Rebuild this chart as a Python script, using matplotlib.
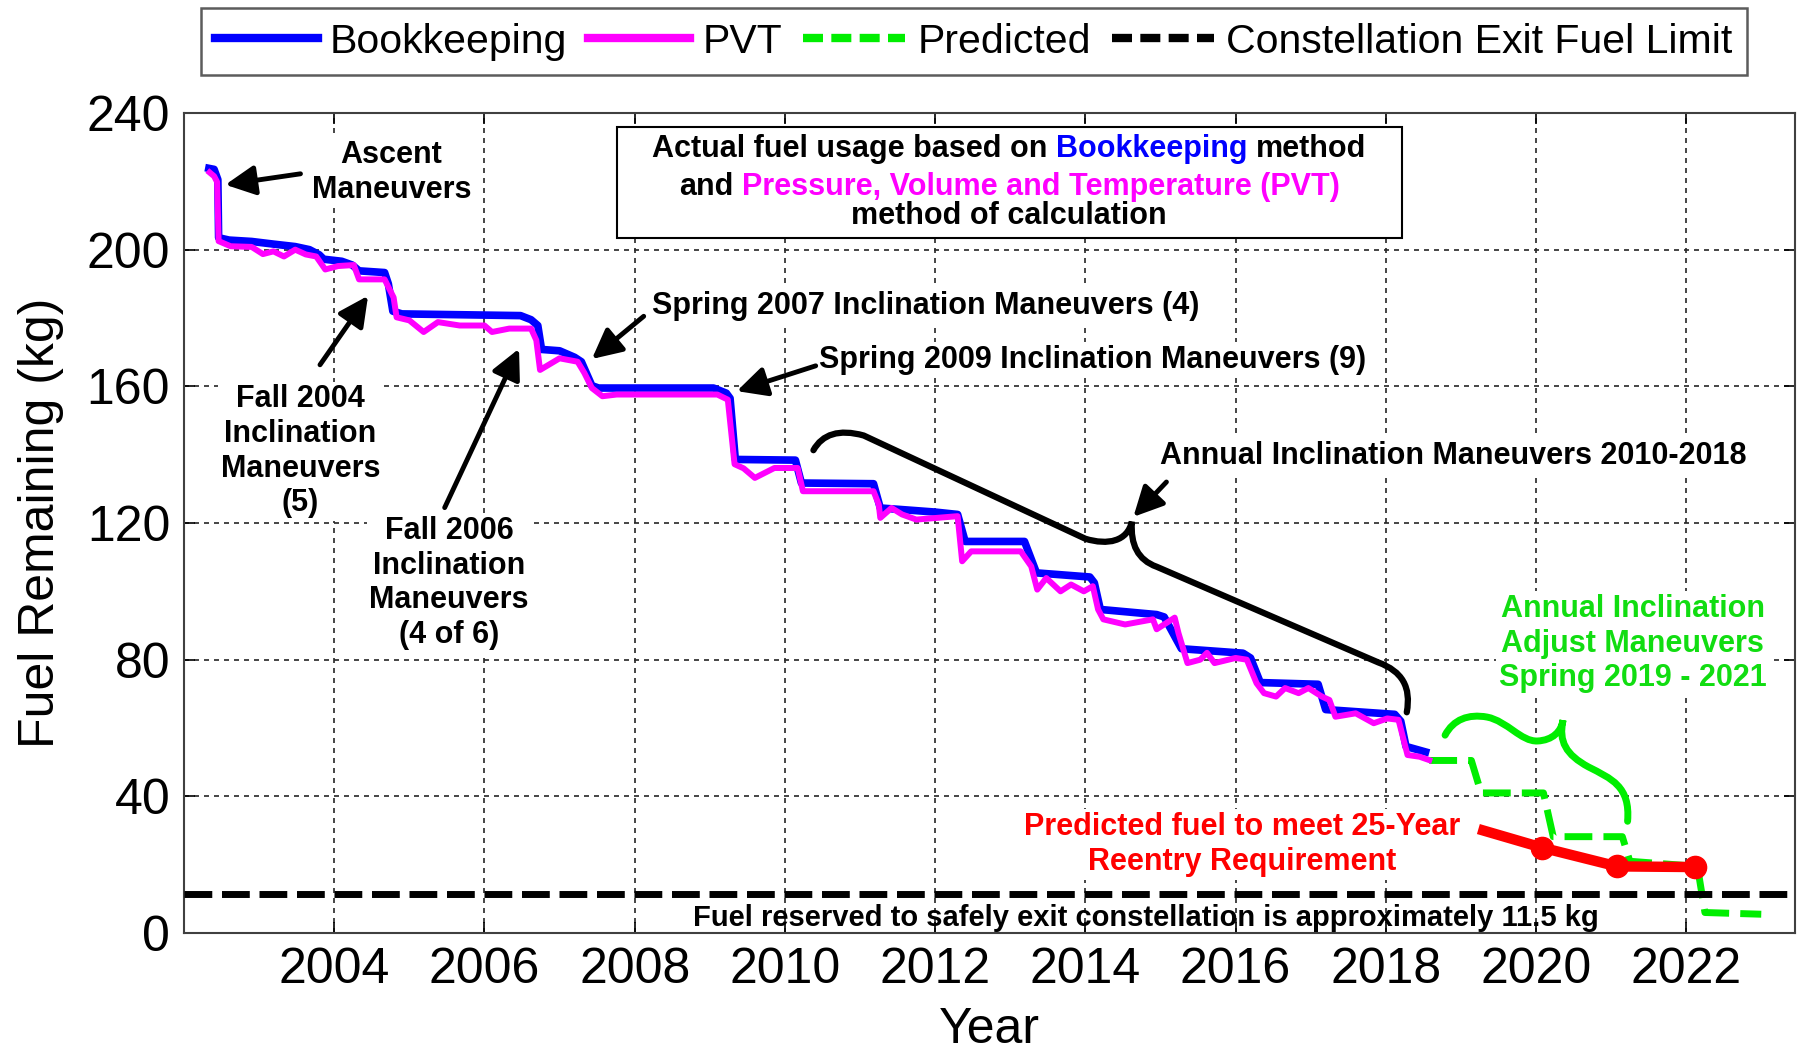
import matplotlib
matplotlib.use('Agg')
import matplotlib.pyplot as plt
import matplotlib.transforms as mtransforms
from matplotlib.lines import Line2D
from matplotlib.path import Path
from matplotlib.patches import PathPatch, Rectangle

plt.rcParams['font.family'] = ['Liberation Sans', 'DejaVu Sans']

# Bookkeeping fuel estimate (kg) vs. year
bk_year = [2002.33, 2002.40, 2002.45, 2002.46, 2002.60, 2002.90, 2003.20, 2003.48,
           2003.67, 2003.80, 2003.86, 2004.10, 2004.24, 2004.33, 2004.67, 2004.72,
           2004.78, 2004.90, 2006.48, 2006.62, 2006.71, 2006.76, 2007.00, 2007.20,
           2007.29, 2007.43, 2007.52, 2009.05, 2009.22, 2009.27, 2009.34, 2010.14,
           2010.22, 2011.18, 2011.27, 2012.00, 2012.30, 2012.40, 2013.19, 2013.35,
           2014.06, 2014.12, 2014.20, 2014.95, 2015.05, 2015.28, 2016.10, 2016.20,
           2016.33, 2017.10, 2017.20, 2018.12, 2018.20, 2018.27, 2018.53]
bk_kg = [223.8, 223.5, 220.5, 203.5, 202.8, 202.4, 201.6, 200.9,
         200.0, 198.5, 197.2, 196.6, 195.5, 193.8, 193.3, 190.0,
         182.0, 181.2, 180.7, 179.5, 177.8, 170.8, 170.4, 168.5,
         167.2, 160.2, 159.5, 159.5, 158.0, 156.5, 138.6, 138.4,
         131.7, 131.5, 124.4, 123.2, 122.5, 114.6, 114.6, 105.4,
         104.2, 102.5, 94.7, 93.2, 92.5, 83.2, 81.9, 80.5,
         73.3, 72.8, 65.4, 64.0, 62.0, 54.6, 53.0]

# Pressure, Volume and Temperature (PVT) estimate
pvt_year = [2002.34, 2002.40, 2002.44, 2002.46, 2002.62, 2002.90, 2003.05, 2003.19,
            2003.33, 2003.48, 2003.62, 2003.76, 2003.88, 2004.05, 2004.26, 2004.33,
            2004.67, 2004.79, 2004.83, 2005.00, 2005.19, 2005.38, 2005.67, 2006.00,
            2006.10, 2006.33, 2006.62, 2006.69, 2006.74, 2007.00, 2007.24, 2007.33,
            2007.43, 2007.57, 2007.76, 2009.10, 2009.24, 2009.33, 2009.45, 2009.60,
            2009.86, 2010.17, 2010.24, 2011.18, 2011.25, 2011.27, 2011.42, 2011.56,
            2011.75, 2012.30, 2012.36, 2012.48, 2013.14, 2013.28, 2013.36, 2013.48,
            2013.67, 2013.81, 2013.98, 2014.10, 2014.17, 2014.24, 2014.53, 2014.90,
            2014.95, 2015.19, 2015.24, 2015.36, 2015.53, 2015.62, 2015.72, 2016.00,
            2016.15, 2016.28, 2016.38, 2016.54, 2016.66, 2016.84, 2016.97, 2017.15,
            2017.25, 2017.33, 2017.60, 2017.84, 2018.02, 2018.17, 2018.29, 2018.45,
            2018.58]
pvt_kg = [222.6, 221.5, 219.8, 202.5, 201.0, 200.8, 198.7, 199.5,
          198.0, 200.0, 198.6, 198.0, 194.2, 195.2, 195.5, 191.3,
          191.3, 186.0, 180.2, 179.3, 175.9, 178.8, 177.8, 177.8,
          175.9, 176.9, 176.9, 173.5, 164.8, 168.2, 167.2, 163.9,
          159.5, 157.1, 157.6, 157.6, 156.1, 137.2, 136.0, 133.2,
          136.1, 136.1, 129.3, 129.3, 125.4, 121.5, 124.4, 122.5,
          121.0, 122.0, 108.8, 111.7, 111.7, 107.3, 100.5, 103.9,
          100.0, 102.0, 100.0, 101.5, 94.7, 91.8, 90.3, 91.8,
          88.9, 92.3, 87.8, 79.0, 80.0, 82.0, 79.0, 80.5,
          80.0, 73.1, 70.2, 69.2, 71.7, 70.2, 71.7, 69.2,
          68.2, 63.3, 64.3, 61.4, 62.8, 62.4, 52.1, 51.6,
          50.6]

# Predicted fuel with annual inclination adjust maneuvers
pred_year = [2018.58, 2019.14, 2019.27, 2020.10, 2020.23, 2021.15, 2021.25,
             2022.15, 2022.25, 2023.00]
pred_kg = [50.5, 50.5, 41.0, 41.0, 28.2, 28.2, 21.0, 19.5, 6.0, 5.5]

# Fuel needed to meet the 25-year reentry requirement
reentry_year = [2019.30, 2020.08, 2021.08, 2022.12]
reentry_kg = [30.0, 25.0, 19.5, 19.3]

limit_kg = 11.5

x_ticks = list(range(2004, 2023, 2))
y_ticks = list(range(0, 241, 40))

BLUE = '#0000ff'
MAGENTA = '#ff00ff'
GREEN = '#00ee00'
GREEN_TXT = '#11dd11'
RED = '#ff0000'

fig = plt.figure(figsize=(18.01, 10.52), dpi=100)
ax = fig.add_axes([0.1022, 0.1131, 0.8945, 0.7795])

ax.plot(bk_year, bk_kg, color=BLUE, lw=5.5, zorder=3, solid_joinstyle='round')
ax.plot(pvt_year, pvt_kg, color=MAGENTA, lw=4.3, zorder=4, solid_joinstyle='round')
ax.plot(pred_year, pred_kg, color=GREEN, lw=5, dashes=(4, 1.6), zorder=3)
ax.axhline(limit_kg, color='k', lw=5, dashes=(4, 1.4), zorder=3)
ax.plot(reentry_year, reentry_kg, color=RED, lw=7.5, zorder=5)
ax.plot(reentry_year[1:], reentry_kg[1:], 'o', color=RED, ms=16, zorder=5)

ax.set_xlim(2002.0, 2023.45)
ax.set_ylim(0, 240)
ax.set_xticks(x_ticks)
ax.set_yticks(y_ticks)
ax.tick_params(direction='in', length=8, width=1.2, top=True, right=True,
               labelsize=36, pad=10)
ax.set_axisbelow(True)
ax.grid(True, color='0.15', linestyle=(0, (3, 3)), lw=1.2)
for s in ax.spines.values():
    s.set_linewidth(1.5)
    s.set_color('0.25')
ax.set_xlabel('Year', fontsize=36, labelpad=10)
ax.set_ylabel('Fuel Remaining (kg)', fontsize=36, labelpad=16)

# legend above the axes
handles = [Line2D([], [], color=BLUE, lw=6),
           Line2D([], [], color=MAGENTA, lw=6),
           Line2D([], [], color=GREEN, lw=6, dashes=(2.4, 1.0)),
           Line2D([], [], color='k', lw=6, dashes=(2.4, 1.0))]
labels = ['Bookkeeping', 'PVT', 'Predicted', 'Constellation Exit Fuel Limit']
leg = fig.legend(handles, labels, loc='center', bbox_to_anchor=(0.5408, 0.9605),
                 ncol=4, fontsize=29.5, frameon=True, fancybox=False,
                 edgecolor='0.2', handlelength=2.5, handletextpad=0.3,
                 columnspacing=0.5, borderpad=0.35)
leg.get_frame().set_linewidth(1.8)

white = dict(facecolor='white', edgecolor='none', pad=2)
note = dict(fontsize=22, fontweight='bold', ha='center', va='center',
            bbox=white, zorder=6)


def arrow(tail, head):
    ax.annotate('', xy=head, xytext=tail, zorder=7,
                arrowprops=dict(arrowstyle='-|>,head_length=0.9,head_width=0.45',
                                lw=3.5, color='k', mutation_scale=20,
                                shrinkA=0, shrinkB=0))


ax.text(2004.76, 222.5, 'Ascent\nManeuvers', **note)
arrow((2003.55, 222.2), (2002.55, 219.0))

ax.text(2003.55, 141.0, 'Fall 2004\nInclination\nManeuvers\n(5)', **note)
arrow((2003.81, 166.3), (2004.45, 186.5))

ax.text(2005.53, 102.4, 'Fall 2006\nInclination\nManeuvers\n(4 of 6)', **note)
arrow((2005.47, 124.5), (2006.46, 171.0))

ax.text(2008.23, 183.6, 'Spring 2007 Inclination Maneuvers (4)',
        **dict(note, ha='left'))
arrow((2008.12, 180.5), (2007.43, 168.0))

ax.text(2010.45, 167.8, 'Spring 2009 Inclination Maneuvers (9)',
        **dict(note, ha='left'))
arrow((2010.41, 166.0), (2009.36, 158.6))

ax.text(2015.0, 139.6, 'Annual Inclination Maneuvers 2010-2018',
        **dict(note, ha='left'))
arrow((2015.08, 132.0), (2014.64, 121.8))

ax.text(2021.29, 84.7, 'Annual Inclination\nAdjust Maneuvers\nSpring 2019 - 2021',
        **dict(note, color=GREEN_TXT))
ax.text(2016.09, 25.9, 'Predicted fuel to meet 25-Year\nReentry Requirement',
        **dict(note, color=RED))
ax.text(2014.8, 4.4,
        'Fuel reserved to safely exit constellation is approximately 11.5 kg',
        fontsize=21, fontweight='bold', ha='center', va='center', zorder=6)

# curly braces
M, L, C = Path.MOVETO, Path.LINETO, Path.CURVE4
black_brace = Path(
    [(2010.38, 141.3),
     (2010.50, 146.0), (2010.72, 147.6), (2011.05, 145.6),
     (2014.00, 115.4),
     (2014.30, 113.4), (2014.56, 114.6), (2014.62, 120.4),
     (2014.60, 113.6), (2014.70, 109.2), (2014.95, 107.2),
     (2017.90, 79.2),
     (2018.22, 76.6), (2018.34, 72.0), (2018.28, 64.6)],
    [M, C, C, C, L, C, C, C, C, C, C, L, C, C, C])
ax.add_patch(PathPatch(black_brace, fill=False, lw=4.5, ec='k',
                       capstyle='round', zorder=5))

green_brace = Path(
    [(2018.79, 57.9),
     (2018.90, 62.5), (2019.10, 64.2), (2019.35, 63.2),
     (2019.62, 62.0), (2019.80, 56.0), (2020.02, 56.2),
     (2020.22, 56.4), (2020.34, 59.0), (2020.36, 62.3),
     (2020.30, 56.0), (2020.40, 52.2), (2020.70, 48.6),
     (2021.00, 45.2), (2021.26, 43.0), (2021.22, 32.7)],
    [M, C, C, C, C, C, C, C, C, C, C, C, C, C, C, C])
ax.add_patch(PathPatch(green_brace, fill=False, lw=5, ec=GREEN,
                       capstyle='round', zorder=5))

# info box with coloured words
ax.add_patch(Rectangle((0.2688, 0.8476), 0.4872, 0.1354, transform=ax.transAxes,
                       facecolor='white', edgecolor='k', lw=1.5, zorder=8))
renderer = fig.canvas.get_renderer()
box_font = dict(fontsize=22, fontweight='bold', va='center', ha='left', zorder=9)
probe = ax.text(0, 0, 'x x', **box_font)
probe2 = ax.text(0, 0, 'xx', **box_font)
space_w = probe.get_window_extent(renderer).width - probe2.get_window_extent(renderer).width
probe.remove()
probe2.remove()


def color_line(y, parts):
    texts = [ax.text(0.5121, y, s, color=c, transform=ax.transAxes, **box_font)
             for s, c in parts]
    widths = [t.get_window_extent(renderer).width for t in texts]
    total = sum(widths) + space_w * (len(texts) - 1)
    off = -total / 2
    for t, w in zip(texts, widths):
        t.set_transform(ax.transAxes + mtransforms.ScaledTranslation(
            off / fig.dpi, 0, fig.dpi_scale_trans))
        off += w + space_w


color_line(0.956, [('Actual fuel usage based on', 'k'), ('Bookkeeping', BLUE),
                   ('method', 'k')])
color_line(0.9098, [('and', 'k'), ('Pressure, Volume and Temperature (PVT)', MAGENTA)])
color_line(0.8744, [('method of calculation', 'k')])

fig.savefig('out.png', dpi=100)
